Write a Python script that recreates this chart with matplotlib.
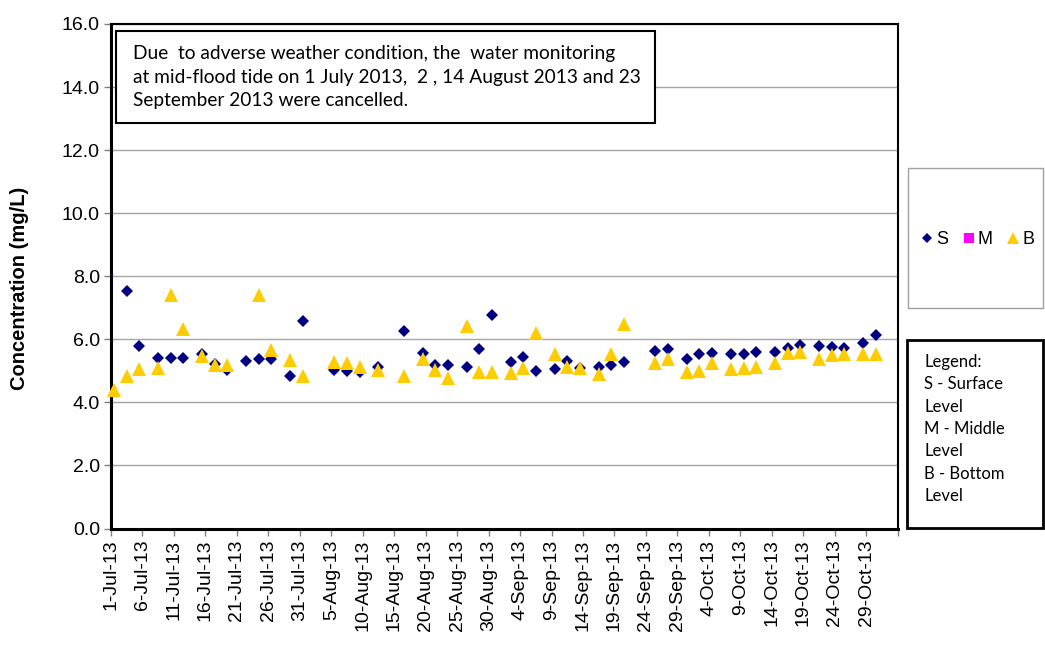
import numpy as np
import pandas as pd
import matplotlib
matplotlib.use("Agg")
import matplotlib.pyplot as plt
from matplotlib.lines import Line2D
from matplotlib.patches import Rectangle

# sampling dates and concentrations (mg/L)
dates = ["2013-07-01", "2013-07-03", "2013-07-05", "2013-07-08", "2013-07-10", "2013-07-12",
         "2013-07-15", "2013-07-17", "2013-07-19", "2013-07-22", "2013-07-24", "2013-07-26",
         "2013-07-29", "2013-07-31", "2013-08-05", "2013-08-07", "2013-08-09", "2013-08-12",
         "2013-08-16", "2013-08-19", "2013-08-21", "2013-08-23", "2013-08-26", "2013-08-28",
         "2013-08-30", "2013-09-02", "2013-09-04", "2013-09-06", "2013-09-09", "2013-09-11",
         "2013-09-13", "2013-09-16", "2013-09-18", "2013-09-20", "2013-09-25", "2013-09-27",
         "2013-09-30", "2013-10-02", "2013-10-04", "2013-10-07", "2013-10-09", "2013-10-11",
         "2013-10-14", "2013-10-16", "2013-10-18", "2013-10-21", "2013-10-23", "2013-10-25",
         "2013-10-28", "2013-10-30"]
surface = [np.nan, 7.53, 5.78, 5.41, 5.41, 5.41,
           5.53, 5.21, 5.02, 5.32, 5.36, 5.39,
           4.83, 6.59, 5.02, 4.99, 4.97, 5.13,
           6.26, 5.58, 5.18, 5.18, 5.12, 5.69,
           6.77, 5.29, 5.43, 5.00, 5.05, 5.31,
           5.08, 5.13, 5.18, 5.29, 5.62, 5.68,
           5.39, 5.55, 5.58, 5.52, 5.55, 5.60,
           5.60, 5.71, 5.82, 5.78, 5.76, 5.71,
           5.89, 6.15]
middle = [np.nan] * len(dates)
bottom = [4.40, 4.83, 5.05, 5.08, 7.40, 6.32,
          5.48, 5.18, 5.18, np.nan, 7.40, 5.66,
          5.35, 4.83, 5.29, 5.26, 5.11, 5.02,
          4.83, 5.36, 5.02, 4.76, 6.43, 4.95,
          4.95, 4.92, 5.08, 6.19, 5.52, 5.13,
          5.10, 4.90, 5.55, 6.48, 5.24, 5.36,
          4.95, 4.99, 5.26, 5.05, 5.10, 5.13,
          5.26, 5.58, 5.60, 5.37, 5.50, 5.55,
          5.52, 5.52]

note = ("Due  to adverse weather condition, the  water monitoring\n"
        "at mid-flood tide on 1 July 2013,  2 , 14 August 2013 and 23\n"
        "September 2013 were cancelled.")
key_text = "Legend:\nS - Surface\nLevel\nM - Middle\nLevel\nB - Bottom\nLevel"

plt.rcParams['font.family'] = ['Liberation Sans', 'DejaVu Sans']

W, H = 1045, 650
fig = plt.figure(figsize=(W / 100, H / 100), dpi=100)
ax = fig.add_axes([111 / W, 1 - 528.5 / H, 786.7 / W, 504.5 / H])

# points sit in the middle of each day slot (Excel date axis)
x = pd.to_datetime(dates) + pd.Timedelta(hours=12)
ax.plot(x, surface, 'D', color='#000080', ms=6.5, mew=0, clip_on=False, zorder=3)
ax.plot(x, middle, 's', color='#FF00FF', ms=7, mew=0, zorder=3)
ax.plot(x, bottom, '^', color='#FFCC00', ms=10, mew=0, clip_on=False, zorder=4)

start = pd.Timestamp("2013-07-01")
ax.set_xlim(start, pd.Timestamp("2013-11-03"))
ax.set_ylim(0, 16)
ax.set_yticks(np.arange(0, 17, 2))
ax.set_yticklabels([f"{v:.1f}" for v in np.arange(0, 17, 2)], fontsize=14)

ticks = pd.date_range(start, periods=26, freq="5D")
ax.set_xticks(ticks)
labels = [f"{d.day}-{d.strftime('%b-%y')}" for d in ticks]
labels[-1] = ""
ax.set_xticklabels(labels, rotation=90, fontsize=14)

ax.tick_params(axis='both', direction='out', length=5, width=1, color='#808080', pad=3)
ax.grid(axis='y', color='#a6a6a6', lw=1)
ax.set_axisbelow(True)
for s in ax.spines.values():
    s.set_color('black')
    s.set_linewidth(1.5)
ax.spines['left'].set_linewidth(2.2)
ax.spines['bottom'].set_linewidth(2.2)

ax.set_ylabel("Concentration (mg/L)", fontsize=14.5, fontweight='bold')
ax.yaxis.set_label_coords(-0.104, 0.475)

# note box inside the plot
fig.add_artist(Rectangle((116 / W, 1 - 123 / H), 539 / W, 92 / H, transform=fig.transFigure,
                         facecolor='white', edgecolor='black', lw=1.5, zorder=5))
fig.text(133 / W, 1 - 77 / H, note, fontsize=13.8, family=['Lato', 'DejaVu Sans'],
         va='center', ha='left', linespacing=1.45, zorder=6)

# series legend box
fig.add_artist(Rectangle((908 / W, 1 - 308 / H), 135 / W, 140 / H, transform=fig.transFigure,
                         facecolor='white', edgecolor='#a0a0a0', lw=1))
handles = [Line2D([], [], ls='none', marker='D', color='#000080', ms=5.5, mew=0),
           Line2D([], [], ls='none', marker='s', color='#FF00FF', ms=7, mew=0),
           Line2D([], [], ls='none', marker='^', color='#FFCC00', ms=8, mew=0)]
fig.legend(handles, ["S", "M", "B"], ncol=3, loc='center', bbox_to_anchor=(977 / W, 1 - 240 / H),
           frameon=False, fontsize=13, handlelength=0.8, handletextpad=0.1, columnspacing=0.75)

# abbreviation key box
fig.add_artist(Rectangle((907 / W, 1 - 528 / H), 136 / W, 188 / H, transform=fig.transFigure,
                         facecolor='white', edgecolor='black', lw=2))
fig.text(924 / W, 1 - 429 / H, key_text, fontsize=12, family=['Lato', 'DejaVu Sans'],
         va='center', ha='left', linespacing=1.49)

fig.savefig("out.png", dpi=100)
